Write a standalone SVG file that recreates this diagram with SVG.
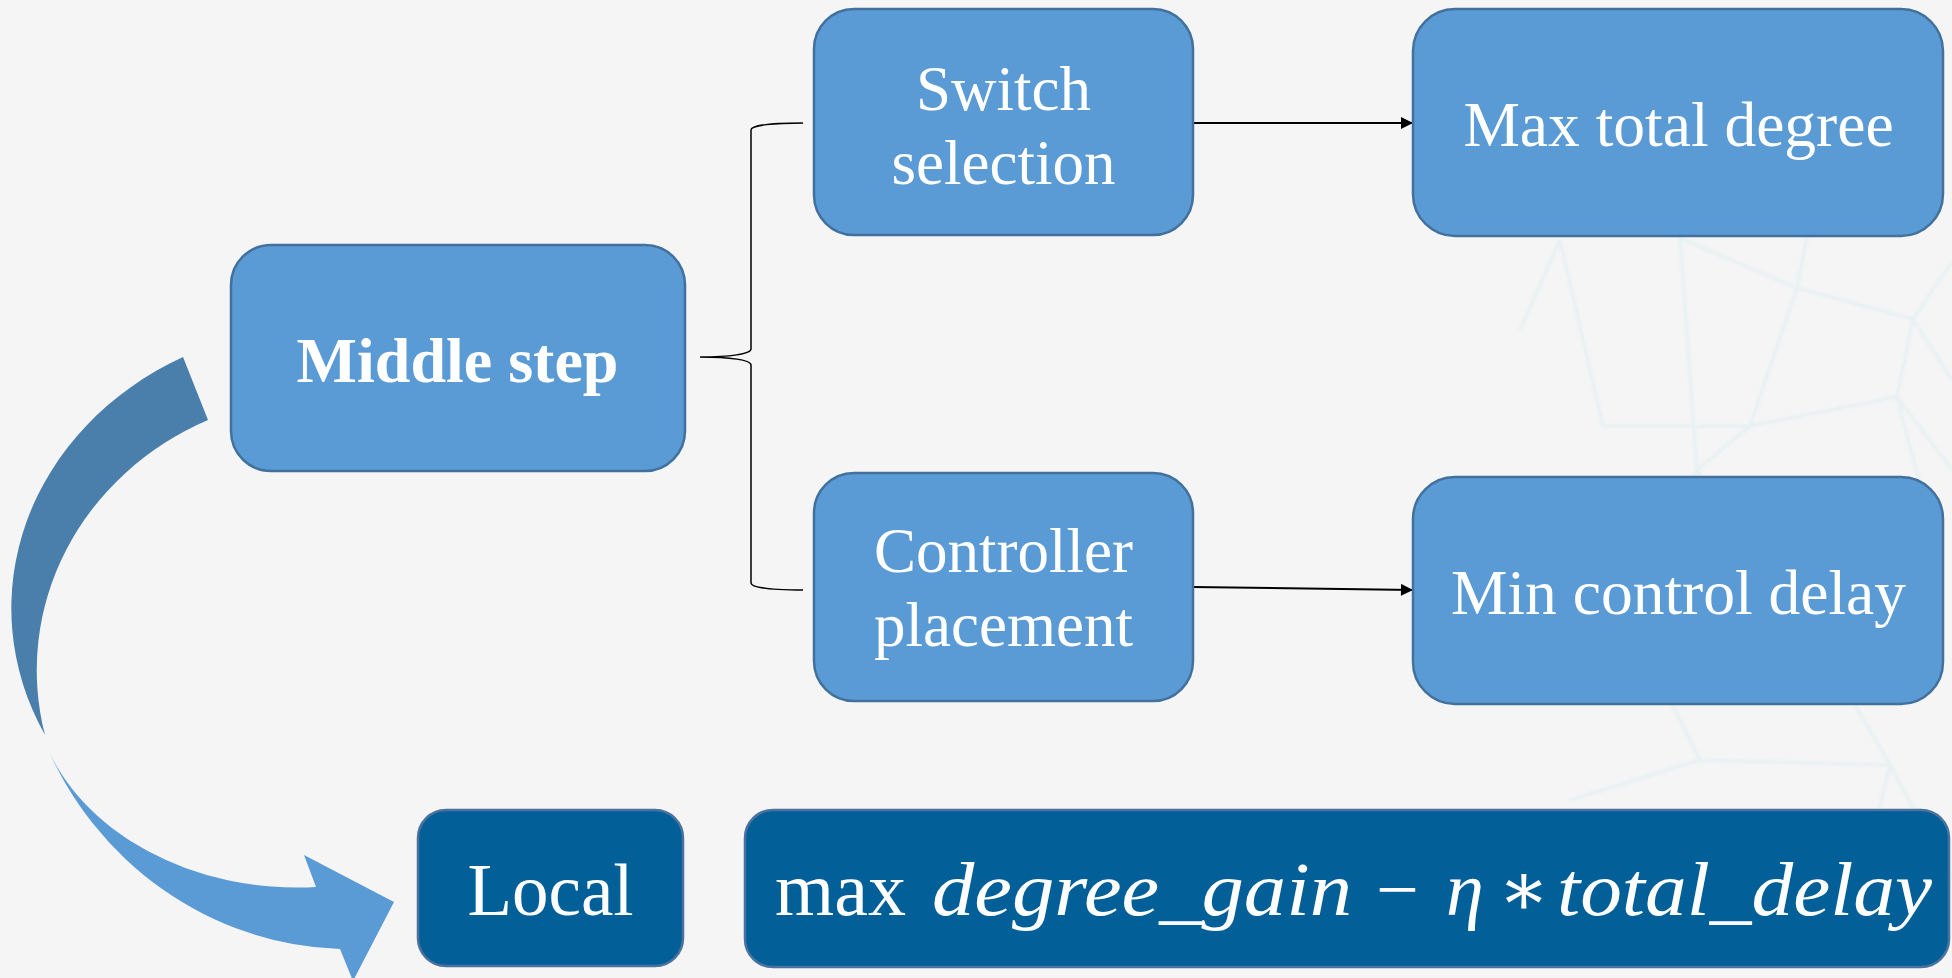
<svg xmlns="http://www.w3.org/2000/svg" width="1952" height="978" viewBox="0 0 1952 978">
  <defs>
    <style>
      .box { fill: #5B9BD5; stroke: #41719C; stroke-width: 2.5; }
      .dark { fill: #025F98; stroke: #4A72A0; stroke-width: 2.5; }
      .lbl { font-family: "Liberation Serif", "Times New Roman", serif; fill: #FFFFFF; text-anchor: middle; }
      .math { font-family: "Liberation Serif", "DejaVu Serif", serif; fill: #FFFFFF; font-size: 76px; }
      .it { font-style: italic; }
      .conn { fill: none; stroke: #000000; }
      .mesh { fill: none; stroke: #C8E6EC; stroke-width: 3; opacity: 0.35; }
    </style>
    <filter id="soft" x="-5%" y="-5%" width="110%" height="110%">
      <feGaussianBlur stdDeviation="1.6"/>
    </filter>
    <marker id="arrowhead" viewBox="0 0 10 10" refX="10" refY="5" markerWidth="15" markerHeight="12" markerUnits="userSpaceOnUse" orient="auto">
      <path d="M0,0 L10,5 L0,10 Z" fill="#000000"/>
    </marker>
  </defs>

  <!-- page background -->
  <rect x="0" y="0" width="1952" height="978" fill="#F5F5F5"/>

  <!-- faint network texture on the right side -->
  <g id="texture" filter="url(#soft)">
    <path class="mesh" d="M1797,288 L1913,319 M1797,288 L1750,426 M1797,288 L1680,238 M1913,319 L1897,397 M1913,319 L1952,262 M1897,397 L1750,426 M1897,397 L1952,470 M1750,426 L1603,426 M1603,426 L1560,240 M1680,238 L1697,470 M1750,426 L1697,470 M1697,470 L1620,600 M1697,470 L1800,610 M1897,397 L1940,560 M1800,610 L1940,560 M1800,610 L1890,765 M1620,600 L1700,760 M1700,760 L1890,765 M1890,765 L1850,930 M1700,760 L1570,800 M1890,765 L1952,880 M1913,319 L1952,380 M1560,240 L1520,330 M1680,238 L1640,150 M1797,288 L1830,120"/>
  </g>

  <!-- curved feedback arrow: back band, then front band with head -->
  <g id="loop-arrow">
    <path d="M183,357 A318,283 0 0 0 45,735 A293,275 0 0 1 208,420 Z" fill="#4A7EAB"/>
    <path d="M44,740 A333,342 0 0 0 340,949 L353,981 L394,902 L304,855 L316,887 A265,208 0 0 1 44,740 Z" fill="#5B9BD5"/>
  </g>

  <g id="connectors">
    <!-- brace from Middle step to its two sub-steps -->
    <path class="conn" stroke-width="1.5" d="M803,123 C775,123 751,125 751,130 L751,349 C751,354 730,357 700,357 C730,357 751,360 751,365 L751,583 C751,588 775,590 803,590"/>
    <line class="conn" stroke-width="2" x1="1193" y1="123" x2="1413" y2="123" marker-end="url(#arrowhead)"/>
    <line class="conn" stroke-width="2" x1="1193" y1="587" x2="1413" y2="590" marker-end="url(#arrowhead)"/>
  </g>

  <g id="middle-step">
    <rect class="box" x="231" y="245" width="454" height="226" rx="40"/>
    <text class="lbl" x="457.5" y="382" font-size="64" font-weight="bold">Middle step</text>
  </g>

  <g id="switch-selection">
    <rect class="box" x="814" y="9" width="379" height="226" rx="40"/>
    <text class="lbl" x="1003.5" y="110" font-size="63">Switch</text>
    <text class="lbl" x="1003.5" y="184" font-size="63">selection</text>
  </g>

  <g id="controller-placement">
    <rect class="box" x="814" y="473" width="379" height="228" rx="40"/>
    <text class="lbl" x="1003.5" y="572" font-size="63">Controller</text>
    <text class="lbl" x="1003.5" y="646" font-size="63">placement</text>
  </g>

  <g id="max-total-degree">
    <rect class="box" x="1413" y="9" width="530" height="227" rx="42"/>
    <text class="lbl" x="1678.5" y="146" font-size="63.5">Max total degree</text>
  </g>

  <g id="min-control-delay">
    <rect class="box" x="1413" y="477" width="530" height="227" rx="42"/>
    <text class="lbl" x="1678.5" y="614" font-size="63.5">Min control delay</text>
  </g>

  <g id="local">
    <rect class="dark" x="418" y="810" width="265" height="156" rx="28"/>
    <text class="lbl" x="550.5" y="915" font-size="73">Local</text>
  </g>

  <g id="objective">
    <rect class="dark" x="745" y="810" width="1204" height="157" rx="28"/>
    <text class="math" x="775" y="915" textLength="131" lengthAdjust="spacingAndGlyphs">max</text>
    <text class="math it" x="932" y="915" textLength="420" lengthAdjust="spacingAndGlyphs">degree_gain</text>
    <text class="math" x="1376" y="915">−</text>
    <text class="math it" x="1446" y="915">η</text>
    <text class="math" x="1498" y="915">∗</text>
    <text class="math it" x="1557" y="915" textLength="375" lengthAdjust="spacingAndGlyphs">total_delay</text>
  </g>
</svg>
